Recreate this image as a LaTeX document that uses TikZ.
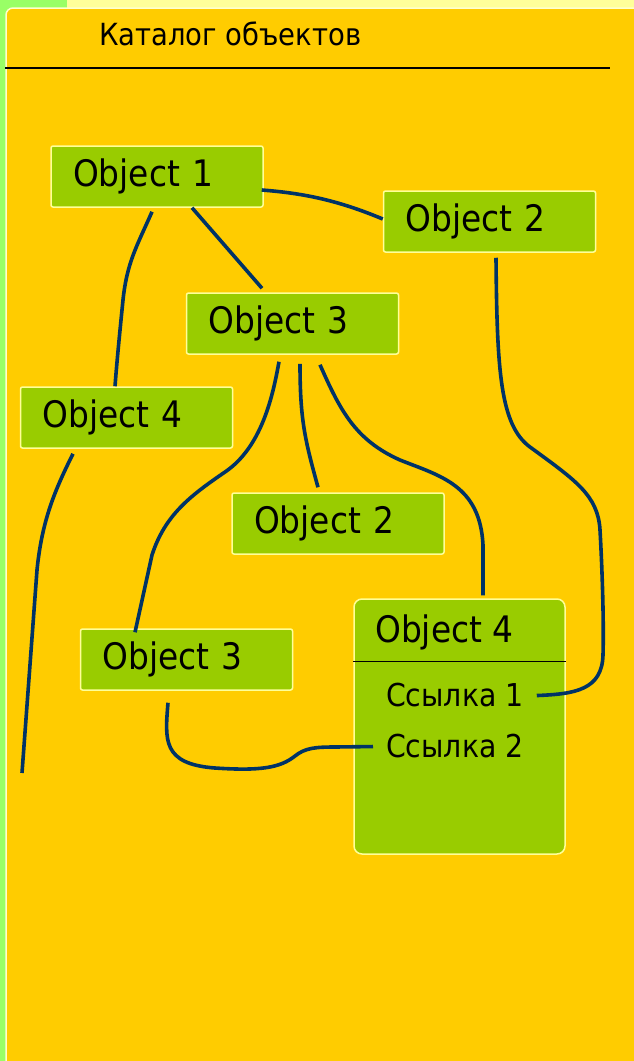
\documentclass[tikz,border=0pt]{standalone}
\usepackage{fontspec}
\setmainfont{DejaVu Sans Condensed}
\usetikzlibrary{calc}
\definecolor{panelfill}{HTML}{FFCC00}
\definecolor{boxfill}{HTML}{99CC00}
\definecolor{boxedge}{HTML}{FFFF99}
\definecolor{wirecol}{HTML}{003366}
\definecolor{sidegreen}{HTML}{99FF66}
\definecolor{topyellow}{HTML}{FFFF99}
\definecolor{paneledge}{HTML}{FFFFCC}
\begin{document}
\begin{tikzpicture}[x=1pt,y=-1pt,
  objfont/.style={font=\fontsize{36.5}{42}\selectfont},
  linkfont/.style={font=\fontsize{31.5}{36}\selectfont},
  titlefont/.style={font=\fontsize{30.5}{35}\selectfont},
  objbox/.style={draw=boxedge, fill=boxfill, line width=1.5pt, rounded corners=2pt,
    minimum height=61pt, inner ysep=0pt, inner xsep=22pt, text width=168pt,
    align=left, objfont},
  bigbox/.style={draw=boxedge, fill=boxfill, line width=1.5pt, rounded corners=8pt,
    minimum width=211pt, minimum height=255pt, inner sep=0pt},
  linklabel/.style={anchor=base west, inner xsep=13pt, inner ysep=0pt, linkfont},
  wire/.style={draw=wirecol, line width=3.6pt}
]
\useasboundingbox (0,0) rectangle (634,1061);

% page background and the catalogue panel
\fill[sidegreen] (0,0) rectangle (634,1061);
\fill[topyellow] (67,0) rectangle (634,8);
\filldraw[draw=paneledge, fill=panelfill, line width=1.5pt, rounded corners=7pt]
  (6,1080) -- (6,8) -- (650,8) -- (650,1080) -- cycle;

% panel heading
\node[anchor=base west, inner sep=0pt, titlefont] (title) at (99,45) {Каталог объектов};
\draw[line width=1.5pt] (5,68) -- (610,68);

% object boxes
\node[objbox] (o1)  at (157,176.5)   {Object 1};
\node[objbox] (o2a) at (489.5,221.5) {Object 2};
\node[objbox] (o3a) at (292.5,323.5) {Object 3};
\node[objbox] (o4a) at (126.5,417.5) {Object 4};
\node[objbox] (o2b) at (338,523.5)   {Object 2};
\node[objbox] (o3b) at (186.5,659.5) {Object 3};

% expanded object with its references
\node[bigbox] (o4b) at (459.5,726.5) {};
\node[anchor=base west, inner sep=0pt, objfont] (o4hdr) at (375,642) {Object 4};
\draw[line width=1.5pt] ($(o4b.north west)+(0,63)$) -- ($(o4b.north east)+(0,63)$);
\node[linklabel] (s1) at (373,706) {Ссылка 1};
\node[linklabel] (s2) at (373,757) {Ссылка 2};

\coordinate (tail) at (22,773);

% connectors
\draw[wire] ($(o1.east)+(-2,13.5)$) .. controls (300,193) and (335,199) .. ($(o2a.west)+(0,-2.5)$);
\draw[wire] ($(o1.south)+(-5,4)$) .. controls (137,246) and (127,262) .. (123,300)
  .. controls (120,330) and (117,360) .. ($(o4a.north)+(-11.5,0)$);
\draw[wire] ($(o1.south)+(35,0)$) -- ($(o3a.north)+(-30.5,-4)$);
\draw[wire] ($(o2a.south)+(6.5,5)$) .. controls (497,370) and (500,425) .. (530,447)
  .. controls (575,480) and (598,495) .. (600,530)
  .. controls (602,565) and (604,620) .. (603,655)
  .. controls (602,690) and (575,694) .. ($(s1.east)+(0,1)$);
\draw[wire] ($(o3a.south)+(-13.5,7)$) .. controls (273,395) and (262,447) .. (225,472)
  .. controls (190,496) and (165,515) .. (152,555) -- ($(o3b.north)+(-51.5,4)$);
\draw[wire] ($(o3a.south)+(7.5,9)$) .. controls (300,420) and (305,440) .. ($(o2b.north)+(-20,-5)$);
\draw[wire] ($(o3a.south)+(27.5,10)$) .. controls (340,410) and (355,440) .. (400,460)
  .. controls (440,476) and (480,485) .. (483,545) -- ($(o4b.north)+(23.5,-3)$);
\draw[wire] ($(o4a.south)+(-53.5,5)$) .. controls (55,490) and (42,520) .. (37,570) -- (tail);
\draw[wire] ($(o3b.south)+(-18.5,12)$) .. controls (165,740) and (162,764) .. (215,768)
  .. controls (260,771) and (280,768) .. (295,756)
  .. controls (305,748) and (315,747) .. (335,747) -- ($(s2.west)+(0,1)$);
\end{tikzpicture}
\end{document}
